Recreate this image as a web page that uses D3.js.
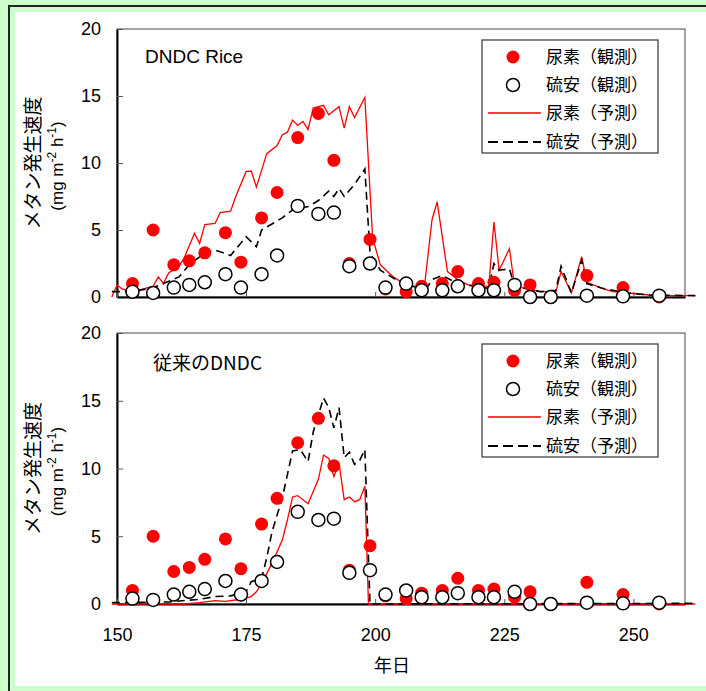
<!DOCTYPE html>
<html>
<head>
<meta charset="utf-8">
<script src="https://cdn.jsdelivr.net/npm/d3@7"></script>
<style>
body{margin:0;background:#fff}
svg{display:block}
text{font-family:"Liberation Sans",Arial,sans-serif;fill:#000}
.jp{font-family:"Noto Sans CJK JP","Noto Sans",sans-serif}
</style>
</head>
<body>
<div id="chart"></div>
<script>
// observed days and values
var obsDays=[153,157,161,164,167,171,174,178,181,185,189,192,195,199,202,206,209,213,216,220,223,227,230,234,241,248,255];
var ureaObs=[1.0,5.0,2.4,2.7,3.3,4.8,2.6,5.9,7.8,11.9,13.7,10.2,2.5,4.3,0.6,0.4,0.8,1.0,1.9,1.0,1.1,0.5,0.9,0.0,1.6,0.7,0.0];
var asObs=[0.4,0.3,0.7,0.9,1.1,1.7,0.7,1.7,3.1,6.8,6.2,6.3,2.3,2.5,0.7,1.0,0.5,0.5,0.8,0.5,0.5,0.9,0.0,0.0,0.1,0.05,0.1];

// DNDC Rice predictions
var riceUreaDays=[149,150,151,152,154,156,157,158,159,160,162,163,165,166,167,169,170,172,173,175,176,177,179,181,182,183,184,185,186,187,188,190,191,193,194,195,196,198,199.5,201,203.5,206,209.5,211,212,214,216,218,222,223,224,226,227,229,232,235,236,238,240,241,244,246,249,253,257,262];
var riceUreaVals=[0,0.9,0.6,0.5,0.5,0.7,0.8,1.5,1.0,1.8,2.3,2.9,4.75,4.0,5.4,5.5,6.3,6.4,7.5,9.35,9.4,8.2,10.7,11.3,12.1,12.3,13.2,12.8,13.1,12.5,14.1,14.3,13.6,14.2,12.6,14.2,13.4,14.9,4.4,2.4,1.5,0.9,0.65,5.75,7.1,1.9,1.3,0.9,0.8,5.6,2.0,3.6,0.8,0.65,0.4,0.4,1.9,0.3,3.0,1.1,0.65,0.4,0.3,0.15,0.1,0.1];
var riceAsDays=[149,153,157,159,162,164,167,169,172,175,177,178,182,184,187,189,191,192,193,194,196,198,199,201,204,207,210,211,213,215,219,222,223,224,226,227,229,232,235,236,238,240,241,244,246,249,253,262];
var riceAsVals=[0.4,0.4,0.7,1.0,1.5,2.4,3.3,3.5,3.1,4.5,3.75,5.0,5.9,6.5,6.75,7.2,7.9,7.5,8.1,7.5,8.4,9.55,3.3,2.0,1.3,0.8,0.65,1.3,1.6,1.2,0.8,0.65,2.5,2.0,2.1,0.8,0.65,0.4,0.5,2.3,0.3,2.75,1.0,0.65,0.5,0.3,0.15,0.1];

// conventional DNDC predictions
var convUreaDays=[149,163,166,169,171,174,176,177,178,180,182,183,184,185,187,189,190,191,192,193,194,195,196,197,198,198.7,262];
var convUreaVals=[0,0,0.1,0.25,0.2,0.35,0.55,0.9,1.5,3.0,4.7,6.2,7.9,8.0,7.4,9.2,11.0,10.75,9.4,10.4,7.7,7.9,7.55,7.7,8.7,0,0];
var convAsDays=[149,160,166,169,172,175,176,178,179,180,182,184,185.5,187,188,190,191,192,193,194,195,196,197,198,199,262];
var convAsVals=[0.1,0.15,0.35,0.55,0.6,0.9,1.65,1.9,3.4,5.3,7.8,11.3,11.4,10.5,12.7,15.2,14.5,13.0,14.5,10.8,11.2,10.3,10.6,11.4,0,0.05];

var yTicks=[0,5,10,15,20];
var xTicks=[150,175,200,225,250];
var legendLabels=["尿素（観測）","硫安（観測）","尿素（予測）","硫安（予測）"];
var panelTitles=["DNDC Rice","従来のDNDC"];

var W=706,H=691;
var svg=d3.select("#chart").append("svg").attr("width",W).attr("height",H);

// green frame
svg.append("rect").attr("x",0).attr("y",0).attr("width",W).attr("height",H).attr("fill","#ccffcc");
svg.append("rect").attr("x",9).attr("y",6).attr("width",W).attr("height",H).attr("fill","none").attr("stroke","#222").attr("stroke-width",2);
svg.append("rect").attr("x",15).attr("y",12).attr("width",W-15).attr("height",674).attr("fill","#fff");

var x=d3.scaleLinear().domain([150,260]).range([117,685]);

var panels=[
  {title:panelTitles[0],top:29,bottom:297,urea:[riceUreaDays,riceUreaVals],as:[riceAsDays,riceAsVals],labels:false},
  {title:panelTitles[1],top:333,bottom:604,urea:[convUreaDays,convUreaVals],as:[convAsDays,convAsVals],labels:true}
];

panels.forEach(function(p){
  var y=d3.scaleLinear().domain([0,20]).range([p.bottom,p.top]);
  var g=svg.append("g");

  g.append("rect").attr("x",x(150)).attr("y",p.top)
    .attr("width",x(260)-x(150)).attr("height",p.bottom-p.top)
    .attr("fill","none").attr("stroke","#666").attr("stroke-width",1.2);

  var ya=g.append("g").attr("transform","translate("+x(150)+",0)")
    .call(d3.axisLeft(y).tickValues(yTicks).tickSize(-6).tickSizeOuter(0).tickPadding(16));
  ya.select(".domain").attr("stroke","#000").attr("stroke-width",2);
  ya.selectAll(".tick line").attr("stroke","#555");
  ya.selectAll("text").attr("font-size",18).attr("font-family","Liberation Sans, Arial");

  var xa=g.append("g").attr("transform","translate(0,"+p.bottom+")")
    .call(d3.axisBottom(x).tickValues(xTicks).tickSize(-5).tickSizeOuter(0).tickPadding(24));
  xa.select(".domain").attr("stroke","#000").attr("stroke-width",2);
  xa.selectAll(".tick line").attr("stroke","#555");
  xa.selectAll("text").attr("font-size",18).attr("font-family","Liberation Sans, Arial");
  if(!p.labels) xa.selectAll("text").remove();

  function mkLine(d){
    return d3.line().x(function(i){return x(d[0][i]);}).y(function(i){return y(d[1][i]);})(d3.range(d[0].length));
  }
  g.append("path").attr("d",mkLine(p.urea)).attr("fill","none").attr("stroke","#ff0000").attr("stroke-width",1.3);
  g.append("path").attr("d",mkLine(p.as)).attr("fill","none").attr("stroke","#000").attr("stroke-width",1.6).attr("stroke-dasharray","8,5");

  g.selectAll(".ru").data(obsDays).enter().append("circle")
    .attr("cx",function(d){return x(d);}).attr("cy",function(d,i){return y(ureaObs[i]);})
    .attr("r",6.5).attr("fill","#ff0000");
  g.selectAll(".as").data(obsDays).enter().append("circle")
    .attr("cx",function(d){return x(d);}).attr("cy",function(d,i){return y(asObs[i]);})
    .attr("r",6.5).attr("fill","#fff").attr("stroke","#000").attr("stroke-width",1.5);

  g.append("text").attr("class",p.title==="DNDC Rice"?"":"jp").attr("x",p.title==="DNDC Rice"?145:153)
    .attr("y",p.top+(p.title==="DNDC Rice"?34:37)).attr("font-size",19).text(p.title);

  // legend
  var lx=482,ly=p.top+11;
  var lg=g.append("g");
  lg.append("rect").attr("x",lx).attr("y",ly).attr("width",176).attr("height",113)
    .attr("fill","#fff").attr("stroke","#333").attr("stroke-width",1.2);
  var rows=[17,45,73,102];
  lg.append("circle").attr("cx",513).attr("cy",ly+rows[0]).attr("r",6.5).attr("fill","#ff0000");
  lg.append("circle").attr("cx",513).attr("cy",ly+rows[1]).attr("r",6.5).attr("fill","#fff").attr("stroke","#000").attr("stroke-width",1.5);
  lg.append("line").attr("x1",488).attr("x2",541).attr("y1",ly+rows[2]).attr("y2",ly+rows[2]).attr("stroke","#ff0000").attr("stroke-width",1.3);
  lg.append("line").attr("x1",488).attr("x2",541).attr("y1",ly+rows[3]).attr("y2",ly+rows[3]).attr("stroke","#000").attr("stroke-width",1.8).attr("stroke-dasharray","10,5");
  legendLabels.forEach(function(t,i){
    lg.append("text").attr("class","jp").attr("x",546).attr("y",ly+rows[i]).attr("dy","0.36em")
      .attr("font-size",17).text(t);
  });

  // y axis title
  var cy=(p.top+p.bottom)/2;
  g.append("text").attr("class","jp").attr("transform","translate(40,"+cy+") rotate(-90)")
    .attr("text-anchor","middle").attr("font-size",19).text("メタン発生速度");
  var u=g.append("text").attr("transform","translate(63,"+(cy+3)+") rotate(-90)")
    .attr("text-anchor","middle").attr("font-size",17);
  u.append("tspan").text("(mg m");
  u.append("tspan").attr("baseline-shift","super").attr("font-size",12).text("-2");
  u.append("tspan").text(" h");
  u.append("tspan").attr("baseline-shift","super").attr("font-size",12).text("-1");
  u.append("tspan").text(")");
});

svg.append("text").attr("class","jp").attr("x",392).attr("y",672).attr("text-anchor","middle")
  .attr("font-size",18).text("年日");
</script>
</body>
</html>
